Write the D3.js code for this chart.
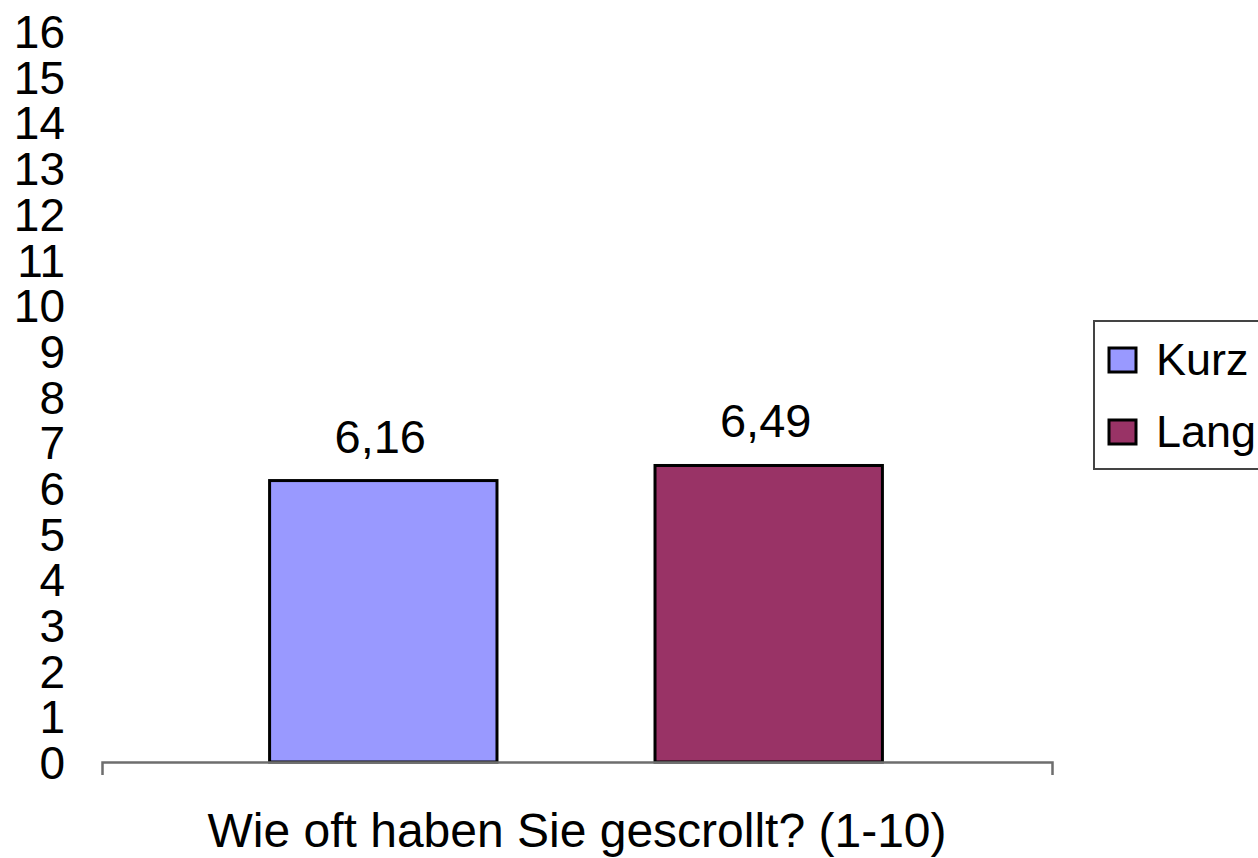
<!DOCTYPE html>
<html>
<head>
<meta charset="utf-8">
<script src="https://cdn.jsdelivr.net/npm/d3@7"></script>
<style>
  html, body { margin: 0; padding: 0; background: #fff; }
  svg { display: block; }
  text { font-family: "Liberation Sans", Arial, sans-serif; fill: #000; }
</style>
</head>
<body>
<svg id="chart" width="1258" height="858"></svg>
<script>
// Survey result: mean scroll rating by article length
const categories = ["Wie oft haben Sie gescrollt? (1-10)"];
const seriesNames = ["Kurz", "Lang"];
const seriesValues = [6.16, 6.49];
const seriesColors = ["#9999FF", "#993366"];
const yTicks = [0, 1, 2, 3, 4, 5, 6, 7, 8, 9, 10, 11, 12, 13, 14, 15, 16];

const svg = d3.select("#chart");
const plot = { left: 102, right: 1052, top: 31, bottom: 762 };

const y = d3.scaleLinear().domain([0, 16]).range([plot.bottom, plot.top]);
const x = d3.scaleBand()
  .domain(seriesNames)
  .range([plot.left - 2, plot.right])
  .paddingInner(0.41)
  .paddingOuter(0.44);

// Value axis: labels only
const yAxis = d3.axisLeft(y).tickValues(yTicks).tickSize(0).tickPadding(0)
  .tickFormat(d3.format("d"));
const gy = svg.append("g").attr("transform", "translate(65,0)").call(yAxis);
gy.select(".domain").remove();
gy.selectAll("text")
  .attr("dy", "0.36em")
  .style("font-size", "46px")
  .style("font-family", "'Liberation Sans', Arial, sans-serif");

// Bars
const bars = seriesNames.map((name, i) => ({ name, value: seriesValues[i], color: seriesColors[i] }));
svg.append("g").selectAll("rect")
  .data(bars)
  .join("rect")
  .attr("x", d => x(d.name))
  .attr("y", d => y(d.value))
  .attr("width", x.bandwidth())
  .attr("height", d => y(0) - y(d.value))
  .attr("fill", d => d.color)
  .attr("stroke", "#000")
  .attr("stroke-width", 3);

// Value labels
svg.append("g").selectAll("text")
  .data(bars)
  .join("text")
  .attr("x", d => x(d.name) + x.bandwidth() / 2 - 3)
  .attr("y", d => y(d.value) - 28)
  .attr("text-anchor", "middle")
  .style("font-size", "47px")
  .text(d => d3.format(".2f")(d.value).replace(".", ","));

// Category axis
const xCat = d3.scaleBand().domain(categories).range([plot.left, plot.right]);
const gx = svg.append("g").attr("transform", `translate(0,${plot.bottom})`)
  .call(d3.axisBottom(xCat).tickSize(0).tickSizeOuter(13).tickFormat(""));
gx.select(".domain").attr("stroke", "#6e6e6e").attr("stroke-width", 2.5);
gx.selectAll(".tick").remove();

svg.append("text")
  .attr("x", xCat(categories[0]) + xCat.bandwidth() / 2)
  .attr("y", 847)
  .attr("text-anchor", "middle")
  .style("font-size", "48px")
  .text(categories[0]);

// Legend
const legend = svg.append("g");
legend.append("rect")
  .attr("x", 1094).attr("y", 321)
  .attr("width", 200).attr("height", 148)
  .attr("fill", "#fff")
  .attr("stroke", "#444")
  .attr("stroke-width", 2);
const items = legend.selectAll("g.item")
  .data(bars)
  .join("g")
  .attr("class", "item")
  .attr("transform", (d, i) => `translate(0,${i * 72})`);
items.append("rect")
  .attr("x", 1109).attr("y", 348)
  .attr("width", 27).attr("height", 24)
  .attr("fill", d => d.color)
  .attr("stroke", "#000")
  .attr("stroke-width", 3);
items.append("text")
  .attr("x", 1156).attr("y", 375)
  .style("font-size", "45px")
  .text(d => d.name);
</script>
</body>
</html>
